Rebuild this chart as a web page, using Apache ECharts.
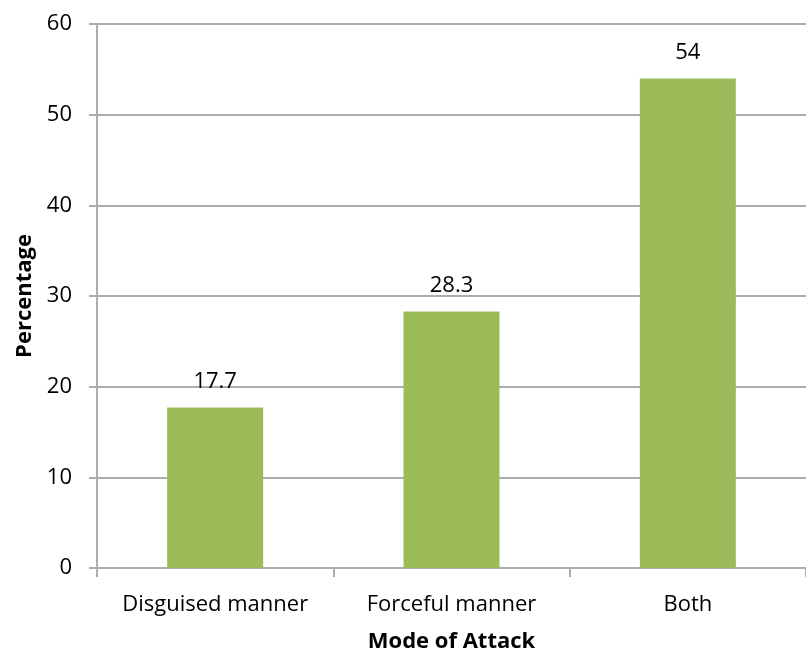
<!DOCTYPE html>
<html>
<head>
<meta charset="utf-8">
<script src="https://cdn.jsdelivr.net/npm/echarts@6/dist/echarts.min.js"></script>
<style>
  html, body { margin: 0; padding: 0; background: #fff; }
  #chart { width: 806px; height: 652px; }
</style>
</head>
<body>
<div id="chart"></div>
<script>
const categories = ['Disguised manner', 'Forceful manner', 'Both']
const values = [17.7, 28.3, 54]
const yTicks = { min: 0, max: 60, interval: 10 }

const font = '"Open Sans", "Liberation Sans", sans-serif'
const grey = '#ADADAD'

const myChart = echarts.init(document.getElementById('chart'))
myChart.setOption({
  animation: false,
  textStyle: { fontFamily: font },
  grid: { left: 97, right: 0, top: 24, bottom: 84, outerBoundsMode: 'none', containLabel: false },
  xAxis: {
    type: 'category',
    data: categories,
    name: 'Mode of Attack',
    nameLocation: 'middle',
    nameGap: 63,
    nameTextStyle: { fontSize: 22, fontWeight: 'bold', color: '#000', fontFamily: font },
    axisLine: { lineStyle: { color: grey, width: 2 } },
    axisTick: { show: true, interval: 0, length: 9, lineStyle: { color: grey, width: 2 } },
    axisLabel: { interval: 0, hideOverlap: false, fontSize: 22, color: '#000', margin: 26, fontFamily: font }
  },
  yAxis: {
    type: 'value',
    min: yTicks.min,
    max: yTicks.max,
    interval: yTicks.interval,
    name: 'Percentage',
    nameLocation: 'middle',
    nameGap: 60,
    nameRotate: 90,
    nameTextStyle: { fontSize: 22, fontWeight: 'bold', color: '#000', fontFamily: font },
    axisLine: { show: true, lineStyle: { color: grey, width: 2 } },
    axisTick: { show: true, length: 8, lineStyle: { color: grey, width: 2 } },
    splitLine: { lineStyle: { color: grey, width: 2 } },
    axisLabel: { fontSize: 22, color: '#000', margin: 25, fontFamily: font }
  },
  series: [{
    type: 'bar',
    data: values,
    barWidth: 96,
    itemStyle: { color: '#9BBB59' },
    label: { show: true, position: 'top', distance: 15, fontSize: 22, color: '#000', fontFamily: font }
  }]
})
</script>
</body>
</html>
